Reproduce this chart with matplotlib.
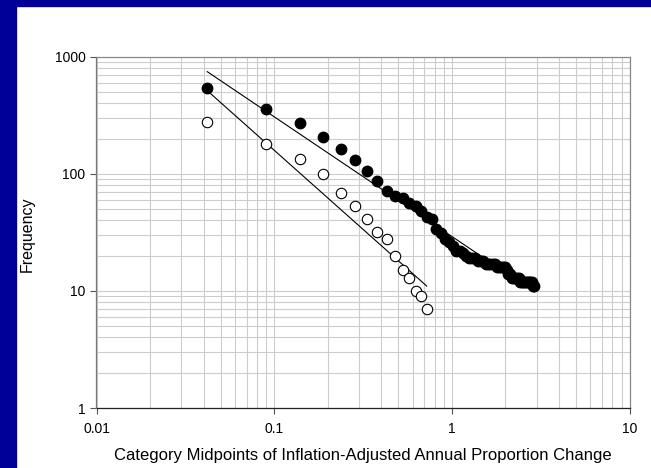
import matplotlib.pyplot as plt
from matplotlib.patches import Rectangle
from matplotlib.ticker import LogLocator, NullFormatter, FixedLocator, FixedFormatter

plt.rcParams['font.family'] = ['Liberation Sans', 'DejaVu Sans']

# category midpoints (inflation-adjusted annual proportion change)
x_pos = [0.042, 0.090, 0.139, 0.187, 0.236, 0.284, 0.333, 0.381, 0.430, 0.478,
         0.527, 0.575, 0.624, 0.672, 0.721, 0.769, 0.818, 0.866, 0.915, 0.963,
         1.012, 1.060, 1.109, 1.157, 1.206, 1.254, 1.303, 1.351, 1.400, 1.448,
         1.497, 1.545, 1.594, 1.642, 1.691, 1.739, 1.788, 1.836, 1.885, 1.933,
         1.982, 2.030, 2.079, 2.127, 2.176, 2.224, 2.273, 2.321, 2.370, 2.418,
         2.467, 2.515, 2.564, 2.612, 2.661, 2.709, 2.758, 2.806, 2.855, 2.903]
freq_pos = [544, 358, 273, 206, 162, 131, 105, 87, 71, 65,
            62, 56, 53, 48, 43, 41, 34, 31, 28, 26,
            24, 22, 22, 21, 20, 19, 19, 19, 18, 18,
            18, 17, 17, 17, 17, 17, 16, 16, 16, 16,
            16, 15, 14, 14, 13, 13, 13, 13, 13, 12,
            12, 12, 12, 12, 12, 12, 12, 12, 11, 11]

x_neg = [0.042, 0.090, 0.139, 0.187, 0.236, 0.284, 0.333, 0.381, 0.430, 0.478,
         0.527, 0.575, 0.624, 0.672, 0.721]
freq_neg = [275, 180, 133, 99, 69, 53, 41, 32, 28, 20, 15, 13, 10, 9, 7]

# power-law trend lines (straight on log-log), given by their end points
fit_pos_x = [0.042, 2.903]
fit_pos_y = [745, 9.8]
fit_neg_x = [0.042, 0.721]
fit_neg_y = [513, 11]

fig = plt.figure(figsize=(6.51, 4.68), dpi=100)
# dark blue slide frame on the left and top edges
fig.patches.append(Rectangle((0, 0), 16 / 651, 1, transform=fig.transFigure,
                             color='#000099', zorder=0))
fig.patches.append(Rectangle((0, 1 - 6 / 468), 1, 6 / 468, transform=fig.transFigure,
                             color='#000099', zorder=0))

ax = fig.add_axes([96.5 / 651, 1 - 408 / 468, (629.7 - 96.5) / 651, (408 - 56.7) / 468])
ax.set_xscale('log')
ax.set_yscale('log')
ax.set_xlim(0.01, 10)
ax.set_ylim(1, 1000)

ax.plot(fit_pos_x, fit_pos_y, color='black', lw=0.8, zorder=3)
ax.plot(fit_neg_x, fit_neg_y, color='black', lw=0.8, zorder=3)
ax.plot(x_pos, freq_pos, 'o', color='black', ms=7.5, zorder=4)
ax.plot(x_neg, freq_neg, 'o', mfc='white', mec='black', mew=0.8, ms=7.5, zorder=4)

ax.xaxis.set_major_locator(FixedLocator([0.01, 0.1, 1, 10]))
ax.xaxis.set_major_formatter(FixedFormatter(['0.01', '0.1', '1', '10']))
ax.yaxis.set_major_locator(FixedLocator([1, 10, 100, 1000]))
ax.yaxis.set_major_formatter(FixedFormatter(['1', '10', '100', '1000']))
for axis in (ax.xaxis, ax.yaxis):
    axis.set_minor_locator(LogLocator(base=10, subs=range(2, 10)))
    axis.set_minor_formatter(NullFormatter())

ax.grid(True, which='both', color='#cccccc', lw=0.8)
ax.set_axisbelow(True)
ax.tick_params(which='major', direction='out', length=4, width=0.8,
               labelsize=10, colors='#555555', labelcolor='black', pad=4)
ax.tick_params(which='minor', length=0)
ax.tick_params(axis='x', pad=6)

ax.spines['left'].set_color('#777777')
ax.spines['bottom'].set_color('#222222')
ax.spines['top'].set_color('#888888')
ax.spines['right'].set_color('#888888')
for s in ax.spines.values():
    s.set_linewidth(0.9)

ax.set_xlabel('Category Midpoints of Inflation-Adjusted Annual Proportion Change',
              fontsize=12, labelpad=9)
ax.set_ylabel('Frequency', fontsize=11.5, va='center')
ax.yaxis.set_label_coords(27 / 651, 0.5, transform=fig.transFigure)

fig.savefig('out.png', dpi=100)
